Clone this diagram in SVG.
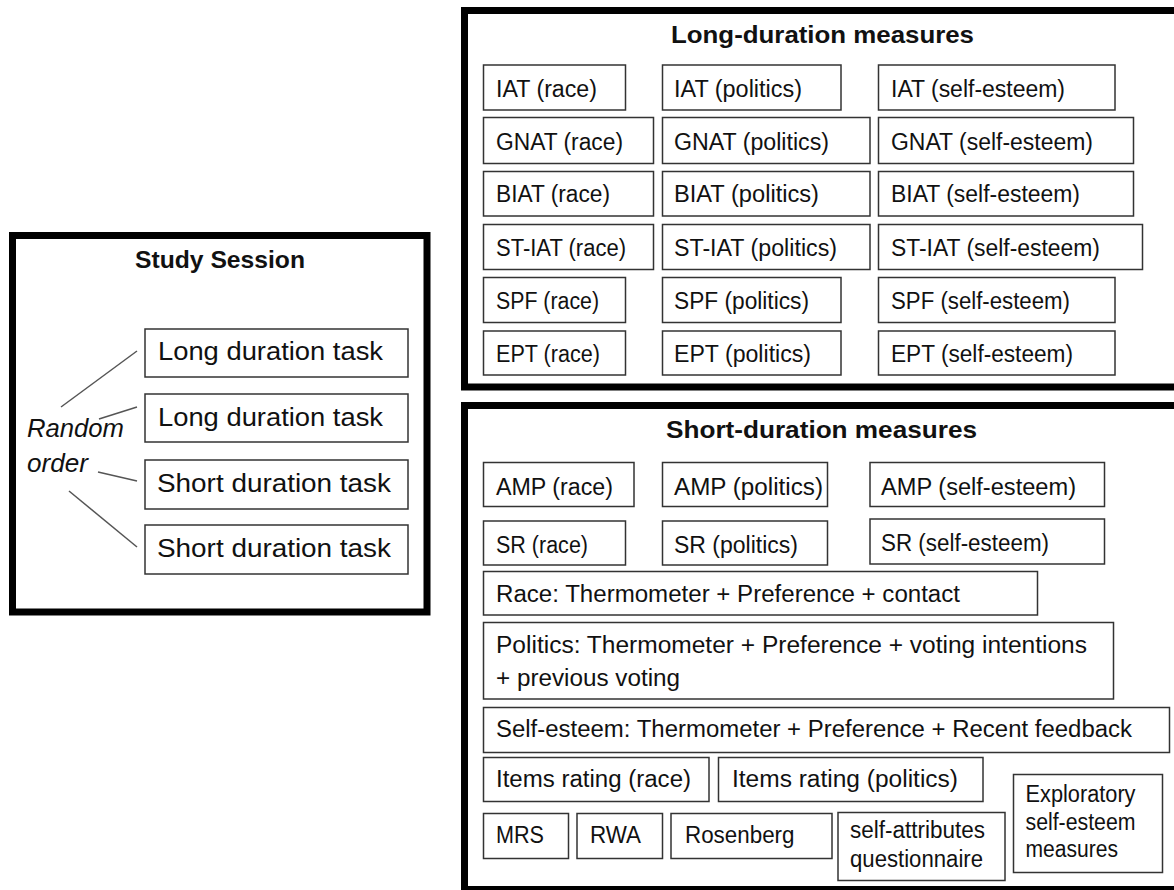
<svg xmlns="http://www.w3.org/2000/svg" width="1174" height="890" viewBox="0 0 1174 890">
<style>
.frame{fill:none;stroke:#000;stroke-width:7}
.box{fill:#fff;stroke:#333;stroke-width:1.5}
.t{font-family:"Liberation Sans",Arial,sans-serif;font-size:23px;fill:#111}
.tl{font-family:"Liberation Sans",Arial,sans-serif;font-size:25px;fill:#111}
.ti{font-family:"Liberation Sans",Arial,sans-serif;font-size:25px;font-style:italic;fill:#111}
.h{font-family:"Liberation Sans",Arial,sans-serif;font-size:24px;font-weight:bold;fill:#111}
.c{stroke:#555;stroke-width:1.5;fill:none}
</style>
<rect width="1174" height="890" fill="#fff"/>

<g id="study-session">
<rect class="frame" x="12.5" y="235.5" width="414.5" height="376.5"/>
<text class="h" x="135" y="268" textLength="170" lengthAdjust="spacingAndGlyphs">Study Session</text>
<text class="ti" x="27" y="437" textLength="97" lengthAdjust="spacingAndGlyphs">Random</text>
<text class="ti" x="27" y="472" textLength="61" lengthAdjust="spacingAndGlyphs">order</text>
</g>
<g id="task1"><rect class="box" x="145" y="329" width="263" height="48"/><text class="tl" x="158" y="360" textLength="225" lengthAdjust="spacingAndGlyphs">Long duration task</text></g>
<g id="task2"><rect class="box" x="145" y="394" width="263" height="48"/><text class="tl" x="158" y="426" textLength="225" lengthAdjust="spacingAndGlyphs">Long duration task</text></g>
<g id="task3"><rect class="box" x="145" y="460" width="263" height="49"/><text class="tl" x="157" y="492" textLength="234" lengthAdjust="spacingAndGlyphs">Short duration task</text></g>
<g id="task4"><rect class="box" x="145" y="525" width="263" height="49"/><text class="tl" x="157" y="557" textLength="234" lengthAdjust="spacingAndGlyphs">Short duration task</text></g>

<g id="connectors">
<line class="c" x1="61" y1="407" x2="137" y2="351"/>
<line class="c" x1="99" y1="419" x2="137" y2="407"/>
<line class="c" x1="98" y1="472" x2="137" y2="481"/>
<line class="c" x1="69" y1="491" x2="137" y2="547"/>
</g>

<g id="long-duration">
<rect class="frame" x="464.5" y="10.5" width="730" height="376.5"/>
<text class="h" x="671" y="43" textLength="303" lengthAdjust="spacingAndGlyphs">Long-duration measures</text>
</g>
<g id="iat-race"><rect class="box" x="483.5" y="65" width="142" height="45"/><text class="t" x="496" y="97" textLength="101" lengthAdjust="spacingAndGlyphs">IAT (race)</text></g>
<g id="iat-politics"><rect class="box" x="662.5" y="65" width="178.5" height="45"/><text class="t" x="674" y="97" textLength="128" lengthAdjust="spacingAndGlyphs">IAT (politics)</text></g>
<g id="iat-se"><rect class="box" x="878.5" y="65" width="236.5" height="45"/><text class="t" x="891" y="97" textLength="174" lengthAdjust="spacingAndGlyphs">IAT (self-esteem)</text></g>
<g id="gnat-race"><rect class="box" x="483.5" y="117.5" width="170" height="46"/><text class="t" x="496" y="150" textLength="127" lengthAdjust="spacingAndGlyphs">GNAT (race)</text></g>
<g id="gnat-politics"><rect class="box" x="662.5" y="117.5" width="207.5" height="46"/><text class="t" x="674" y="150" textLength="155" lengthAdjust="spacingAndGlyphs">GNAT (politics)</text></g>
<g id="gnat-se"><rect class="box" x="878.5" y="117.5" width="255" height="46"/><text class="t" x="891" y="150" textLength="202" lengthAdjust="spacingAndGlyphs">GNAT (self-esteem)</text></g>
<g id="biat-race"><rect class="box" x="483.5" y="171.5" width="170" height="44.5"/><text class="t" x="496" y="202" textLength="114" lengthAdjust="spacingAndGlyphs">BIAT (race)</text></g>
<g id="biat-politics"><rect class="box" x="662.5" y="171.5" width="207.5" height="44.5"/><text class="t" x="674" y="202" textLength="145" lengthAdjust="spacingAndGlyphs">BIAT (politics)</text></g>
<g id="biat-se"><rect class="box" x="878.5" y="171.5" width="255" height="44.5"/><text class="t" x="891" y="202" textLength="189" lengthAdjust="spacingAndGlyphs">BIAT (self-esteem)</text></g>
<g id="stiat-race"><rect class="box" x="483.5" y="224.5" width="170" height="45"/><text class="t" x="496" y="256" textLength="130" lengthAdjust="spacingAndGlyphs">ST-IAT (race)</text></g>
<g id="stiat-politics"><rect class="box" x="662.5" y="224.5" width="207.5" height="45"/><text class="t" x="674" y="256" textLength="163" lengthAdjust="spacingAndGlyphs">ST-IAT (politics)</text></g>
<g id="stiat-se"><rect class="box" x="878.5" y="224.5" width="264" height="45"/><text class="t" x="891" y="256" textLength="209" lengthAdjust="spacingAndGlyphs">ST-IAT (self-esteem)</text></g>
<g id="spf-race"><rect class="box" x="483.5" y="277.5" width="142" height="45"/><text class="t" x="496" y="309" textLength="103" lengthAdjust="spacingAndGlyphs">SPF (race)</text></g>
<g id="spf-politics"><rect class="box" x="662.5" y="277.5" width="178.5" height="45"/><text class="t" x="674" y="309" textLength="135" lengthAdjust="spacingAndGlyphs">SPF (politics)</text></g>
<g id="spf-se"><rect class="box" x="878.5" y="277.5" width="236.5" height="45"/><text class="t" x="891" y="309" textLength="179" lengthAdjust="spacingAndGlyphs">SPF (self-esteem)</text></g>
<g id="ept-race"><rect class="box" x="483.5" y="331" width="142" height="44"/><text class="t" x="496" y="362" textLength="104" lengthAdjust="spacingAndGlyphs">EPT (race)</text></g>
<g id="ept-politics"><rect class="box" x="662.5" y="331" width="178.5" height="44"/><text class="t" x="674" y="362" textLength="137" lengthAdjust="spacingAndGlyphs">EPT (politics)</text></g>
<g id="ept-se"><rect class="box" x="878.5" y="331" width="236.5" height="44"/><text class="t" x="891" y="362" textLength="182" lengthAdjust="spacingAndGlyphs">EPT (self-esteem)</text></g>

<g id="short-duration">
<rect class="frame" x="464.5" y="405.5" width="730" height="484"/>
<text class="h" x="666" y="438" textLength="311" lengthAdjust="spacingAndGlyphs">Short-duration measures</text>
</g>
<g id="amp-race"><rect class="box" x="483.5" y="462.5" width="150.5" height="44"/><text class="t" x="496" y="495" textLength="117" lengthAdjust="spacingAndGlyphs">AMP (race)</text></g>
<g id="amp-politics"><rect class="box" x="662.5" y="462.5" width="165" height="44"/><text class="t" x="674" y="495" textLength="149" lengthAdjust="spacingAndGlyphs">AMP (politics)</text></g>
<g id="amp-se"><rect class="box" x="870" y="462.5" width="234.5" height="44"/><text class="t" x="881" y="495" textLength="195" lengthAdjust="spacingAndGlyphs">AMP (self-esteem)</text></g>
<g id="sr-race"><rect class="box" x="483.5" y="521" width="142" height="44"/><text class="t" x="496" y="553" textLength="92" lengthAdjust="spacingAndGlyphs">SR (race)</text></g>
<g id="sr-politics"><rect class="box" x="662.5" y="521" width="165" height="44"/><text class="t" x="674" y="553" textLength="124" lengthAdjust="spacingAndGlyphs">SR (politics)</text></g>
<g id="sr-se"><rect class="box" x="870" y="519" width="234.5" height="45"/><text class="t" x="881" y="551" textLength="168" lengthAdjust="spacingAndGlyphs">SR (self-esteem)</text></g>
<g id="race-explicit"><rect class="box" x="483.5" y="571.5" width="554" height="43.5"/><text class="t" x="496" y="602" textLength="464" lengthAdjust="spacingAndGlyphs">Race: Thermometer + Preference + contact</text></g>
<g id="politics-explicit"><rect class="box" x="483.5" y="622.5" width="630" height="76.5"/><text class="t" x="496" y="653" textLength="591" lengthAdjust="spacingAndGlyphs">Politics: Thermometer  + Preference  + voting intentions</text><text class="t" x="496" y="686" textLength="184" lengthAdjust="spacingAndGlyphs">+ previous voting</text></g>
<g id="se-explicit"><rect class="box" x="483.5" y="707.5" width="686" height="45"/><text class="t" x="496" y="737" textLength="636" lengthAdjust="spacingAndGlyphs">Self-esteem:  Thermometer + Preference + Recent feedback</text></g>
<g id="items-race"><rect class="box" x="483.5" y="757.5" width="225.5" height="44"/><text class="t" x="496" y="787" textLength="195" lengthAdjust="spacingAndGlyphs">Items rating (race)</text></g>
<g id="items-politics"><rect class="box" x="718.5" y="757.5" width="264.5" height="44"/><text class="t" x="732" y="787" textLength="226" lengthAdjust="spacingAndGlyphs">Items rating (politics)</text></g>
<g id="exploratory"><rect class="box" x="1013.5" y="774.5" width="149" height="98"/><text class="t" x="1025.5" y="802" textLength="110" lengthAdjust="spacingAndGlyphs">Exploratory</text><text class="t" x="1025.5" y="830" textLength="110" lengthAdjust="spacingAndGlyphs">self-esteem</text><text class="t" x="1025.5" y="857" textLength="92.5" lengthAdjust="spacingAndGlyphs">measures</text></g>
<g id="mrs"><rect class="box" x="483.5" y="813.5" width="85" height="45"/><text class="t" x="496" y="843" textLength="48" lengthAdjust="spacingAndGlyphs">MRS</text></g>
<g id="rwa"><rect class="box" x="577" y="813.5" width="85.5" height="45"/><text class="t" x="590" y="843" textLength="51" lengthAdjust="spacingAndGlyphs">RWA</text></g>
<g id="rosenberg"><rect class="box" x="671" y="813.5" width="161" height="45"/><text class="t" x="685" y="843" textLength="109.5" lengthAdjust="spacingAndGlyphs">Rosenberg</text></g>
<g id="self-attributes"><rect class="box" x="838" y="812.5" width="167" height="68"/><text class="t" x="850" y="838" textLength="135" lengthAdjust="spacingAndGlyphs">self-attributes</text><text class="t" x="850" y="867" textLength="133" lengthAdjust="spacingAndGlyphs">questionnaire</text></g>
</svg>
